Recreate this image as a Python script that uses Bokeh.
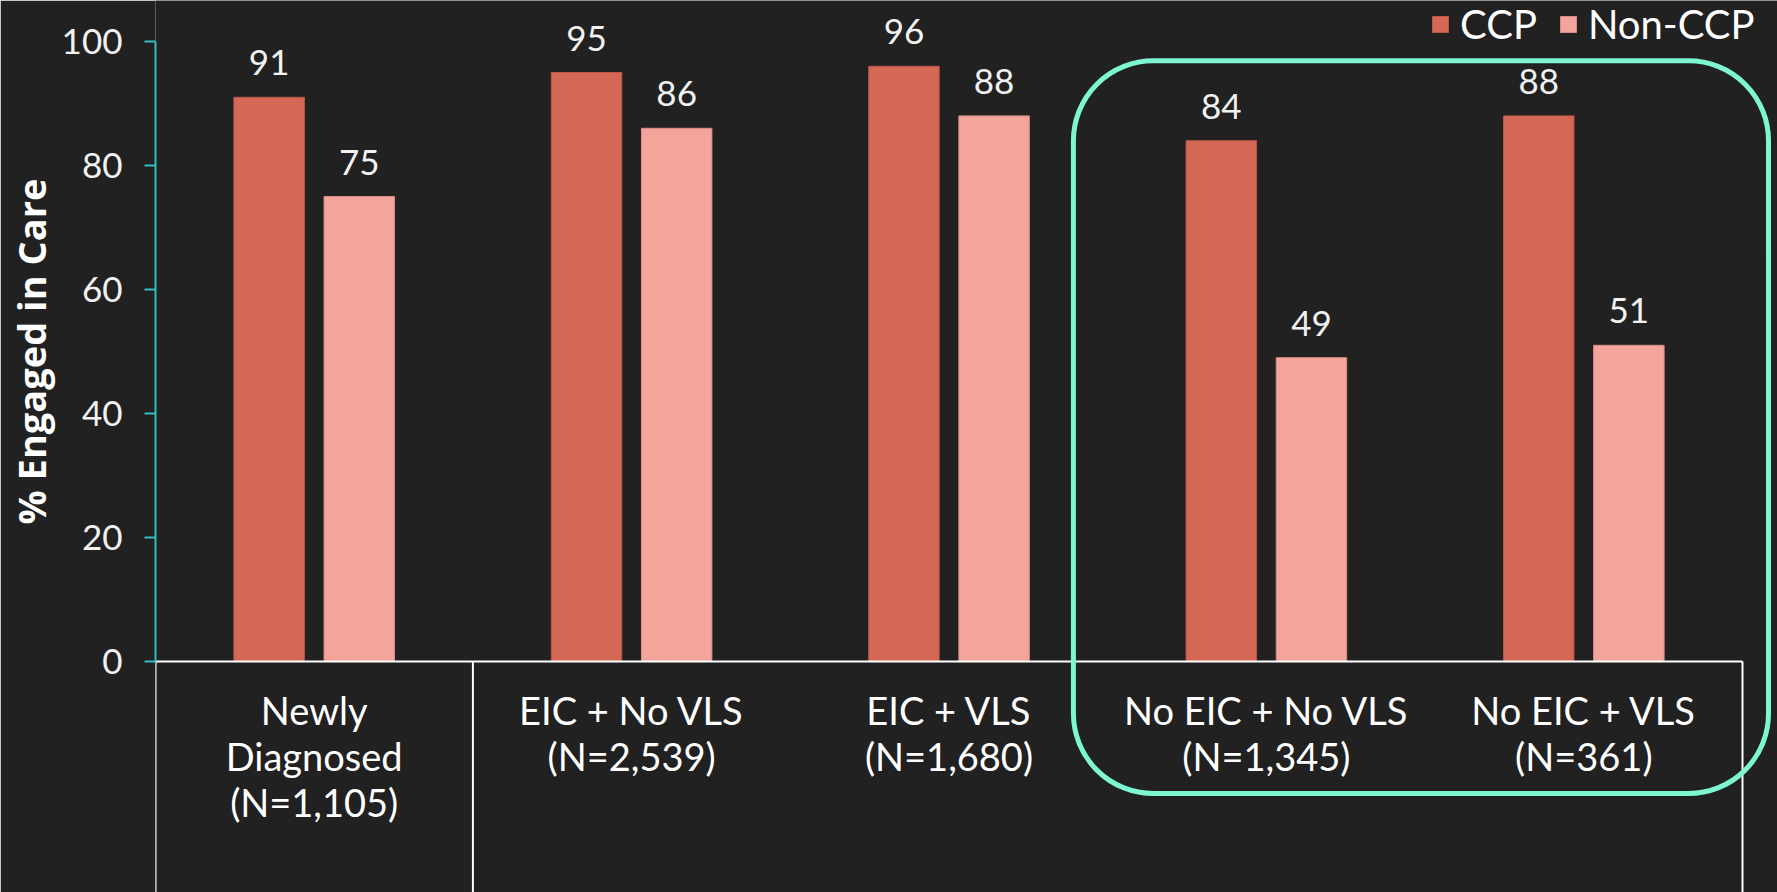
from bokeh.plotting import figure
from bokeh.models import (Range1d, FixedTicker, LinearAxis, Legend, LegendItem,
                          BoxAnnotation, ColumnDataSource, Title)
from bokeh.core.properties import value
from bokeh.embed import file_html
from bokeh.resources import INLINE

# ---------------- data ----------------
categories = ["Newly\nDiagnosed\n(N=1,105)", "EIC + No VLS\n(N=2,539)", "EIC + VLS\n(N=1,680)",
              "No EIC + No VLS\n(N=1,345)", "No EIC + VLS\n(N=361)"]
ccp = [91, 95, 96, 84, 88]
non_ccp = [75, 86, 88, 49, 51]
series_names = ["CCP", "Non-CCP"]
y_ticks = [0, 20, 40, 60, 80, 100]
y_title = "% Engaged in Care"
separator_groups = [1]          # a separator after the first category
highlight_groups = [3, 4]       # categories framed by the rounded box

# ---------------- style / layout ----------------
W, H = 1777, 892
LEFT = 155
GROUP_PX = 317.4
Y0_PX = 661
PX_PER_UNIT = 6.2
BG = "#212121"
C_CCP = "#D56855"
C_NON = "#F3A49B"
TEAL = "#35BDBD"
AQUA = "#7DF7D2"
TXT = "#F2F2F2"
FONT = "Lato"
FS = "35px"

n = len(categories)
x_end = (W - LEFT) / GROUP_PX
y_end = Y0_PX / PX_PER_UNIT
y_start = -(H - Y0_PX) / PX_PER_UNIT

p = figure(width=W, height=H, x_range=Range1d(0, x_end), y_range=Range1d(y_start, y_end),
           output_backend="svg", toolbar_location=None, x_axis_type=None, y_axis_type=None,
           min_border_left=LEFT, min_border_right=0, min_border_top=0, min_border_bottom=0,
           background_fill_color=BG, border_fill_color=BG, outline_line_color=None)
p.xgrid.visible = False
p.ygrid.visible = False

OFF = 0.142
BW = 0.222
centers = [i + 0.5 for i in range(n)]
src = ColumnDataSource(dict(
    xc=[c - OFF for c in centers], xn=[c + OFF for c in centers],
    ccp=ccp, non=non_ccp,
    tc=[str(v) for v in ccp], tn=[str(v) for v in non_ccp]))

r1 = p.vbar(x="xc", top="ccp", bottom=0, width=BW, source=src, fill_color=C_CCP,
            line_color="#B9574A", line_width=1)
r2 = p.vbar(x="xn", top="non", bottom=0, width=BW, source=src, fill_color=C_NON,
            line_color="#D98D85", line_width=1)

for xcol, ycol, tcol in (("xc", "ccp", "tc"), ("xn", "non", "tn")):
    p.text(x=xcol, y=ycol, text=tcol, source=src, y_offset=-22, text_align="center",
           text_baseline="bottom", text_font=value(FONT), text_font_size=FS,
           text_color=TXT)

# category separators (multi-level axis style)
bounds = [0] + separator_groups + [n]
p.segment(x0=bounds, y0=[0] * len(bounds), x1=bounds, y1=[y_start] * len(bounds),
          line_color="white", line_width=2)

# y axis
yaxis = LinearAxis(bounds=(0, 100), ticker=FixedTicker(ticks=y_ticks),
                   axis_line_color=TEAL, axis_line_width=2,
                   major_tick_line_color=TEAL, major_tick_line_width=2,
                   major_tick_out=11, major_tick_in=0, minor_tick_line_color=None,
                   major_label_standoff=22, major_label_text_font=FONT,
                   major_label_text_font_size=FS, major_label_text_color=TXT)
p.add_layout(yaxis, "left")
p.add_layout(Title(text=y_title, align="left", offset=368, text_font="Open Sans",
                   text_font_style="bold", text_font_size="38px", text_color="white",
                   standoff=4), "left")

# x axis at y=0
xaxis = LinearAxis(fixed_location=0, bounds=(0, n), ticker=FixedTicker(ticks=centers),
                   major_label_overrides={c: lab for c, lab in zip(centers, categories)},
                   axis_line_color="white", axis_line_width=2,
                   major_tick_line_color=None, minor_tick_line_color=None,
                   major_label_standoff=19, major_label_text_font=FONT,
                   major_label_text_font_size="38px", major_label_text_color="white",
                   major_label_text_line_height=1.0)
p.add_layout(xaxis, "below")

# highlight box
box = BoxAnnotation(left=min(highlight_groups) - 0.108, right=max(highlight_groups) + 1.082,
                    top=96.9, bottom=-21.3, fill_alpha=0, line_color=AQUA, line_alpha=1.0,
                    line_width=5, border_radius=80)
p.add_layout(box)

legend = Legend(items=[LegendItem(label=series_names[0], renderers=[r1]),
                       LegendItem(label=series_names[1], renderers=[r2])],
                orientation="horizontal", location=(1430 - LEFT, H - 48),
                background_fill_alpha=0, border_line_color=None,
                label_text_color="white", label_text_font=FONT, label_text_font_size="40px",
                glyph_width=20, glyph_height=20, label_standoff=10, spacing=21,
                padding=0, margin=0)
p.add_layout(legend)

open("out.html", "w").write(file_html(p, INLINE))
